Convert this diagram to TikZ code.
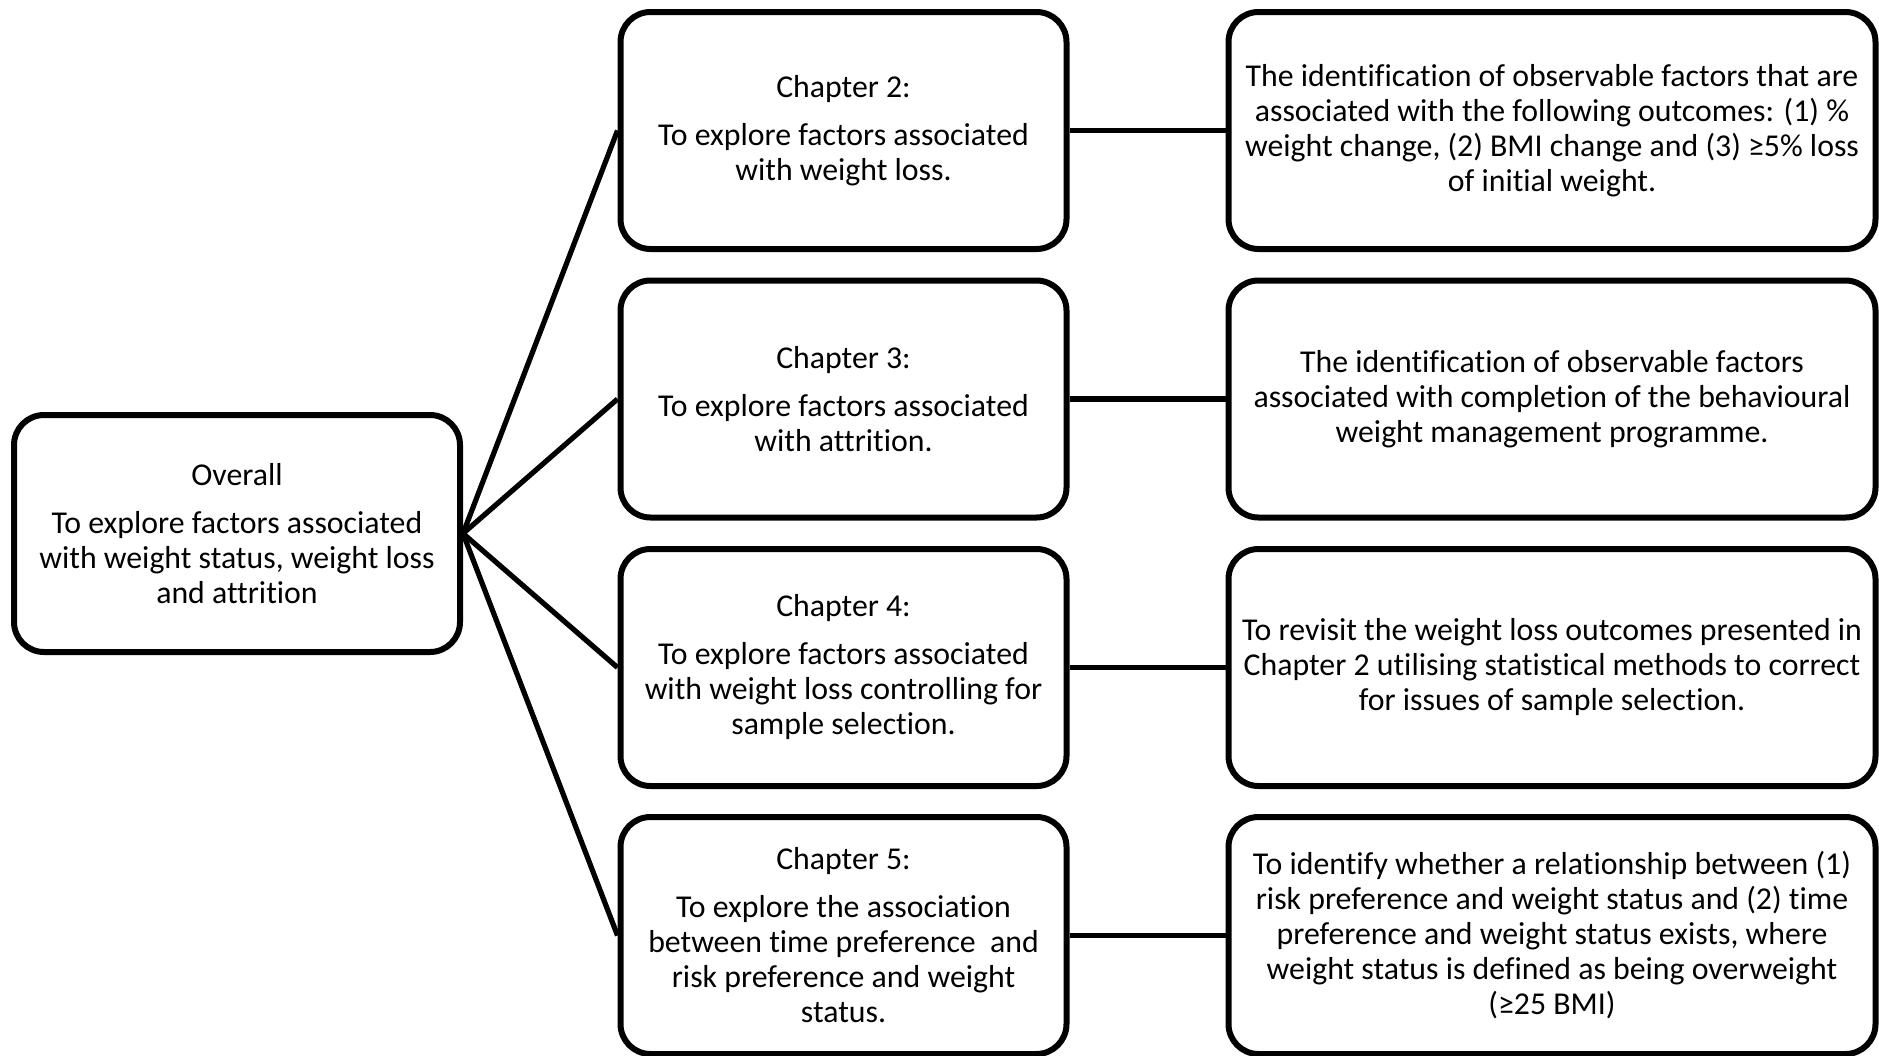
\documentclass[tikz,border=0pt]{standalone}
\usepackage{fontspec}
\setmainfont{Carlito}[Ligatures=NoCommon]
\begin{document}
\begin{tikzpicture}[x=0.5pt,y=-0.5pt,
  box/.style={draw, line width=3pt, rounded corners=15pt, align=center,
    inner sep=0pt, minimum height=118.5pt, font=\fontsize{15.9}{17.5}\selectfont},
  mid/.style={box, minimum width=223pt},
  wide/.style={box, minimum width=323.5pt},
  link/.style={line width=2.6pt}]
\useasboundingbox (0,0) rectangle (1879,1055);

% overall aim
\node[mid] (overall) at (237,533.5)
  {Overall\\[6.5pt]To explore factors associated\\with weight status, weight loss\\and attrition};

% chapter aims
\node[mid] (c2) at (843.5,130.5)
  {Chapter 2:\\[6.5pt]To explore factors associated\\with weight loss.};
\node[mid] (c3) at (843.5,399)
  {Chapter 3:\\[6.5pt]To explore factors associated\\with attrition.};
\node[mid] (c4) at (843.5,667.5)
  {Chapter 4:\\[6.5pt]To explore factors associated\\with weight loss controlling for\\sample selection.};
\node[mid] (c5) at (843.5,935.5)
  {Chapter 5:\\[6.5pt]To explore the association\\between time preference\ \ and\\risk preference and weight\\status.};

% outcomes
\node[wide] (o2) at (1552,130.5)
  {The identification of observable factors that are\\associated with the following outcomes: (1) \%\\weight change, (2) BMI change and (3) ≥5\% loss\\of initial weight.};
\node[wide] (o3) at (1552,399)
  {The identification of observable factors\\associated with completion of the behavioural\\weight management programme.};
\node[wide] (o4) at (1552,667.5)
  {To revisit the weight loss outcomes presented in\\Chapter 2 utilising statistical methods to correct\\for issues of sample selection.};
\node[wide] (o5) at (1552,935.5)
  {To identify whether a relationship between (1)\\risk preference and weight status and (2) time\\preference and weight status exists, where\\weight status is defined as being overweight\\(≥25 BMI)};

% connectors
\foreach \c in {c2,c3,c4,c5} \draw[link] (overall.east) -- (\c.west);
\draw[link] (c2.east) -- (o2.west);
\draw[link] (c3.east) -- (o3.west);
\draw[link] (c4.east) -- (o4.west);
\draw[link] (c5.east) -- (o5.west);
\end{tikzpicture}
\end{document}
